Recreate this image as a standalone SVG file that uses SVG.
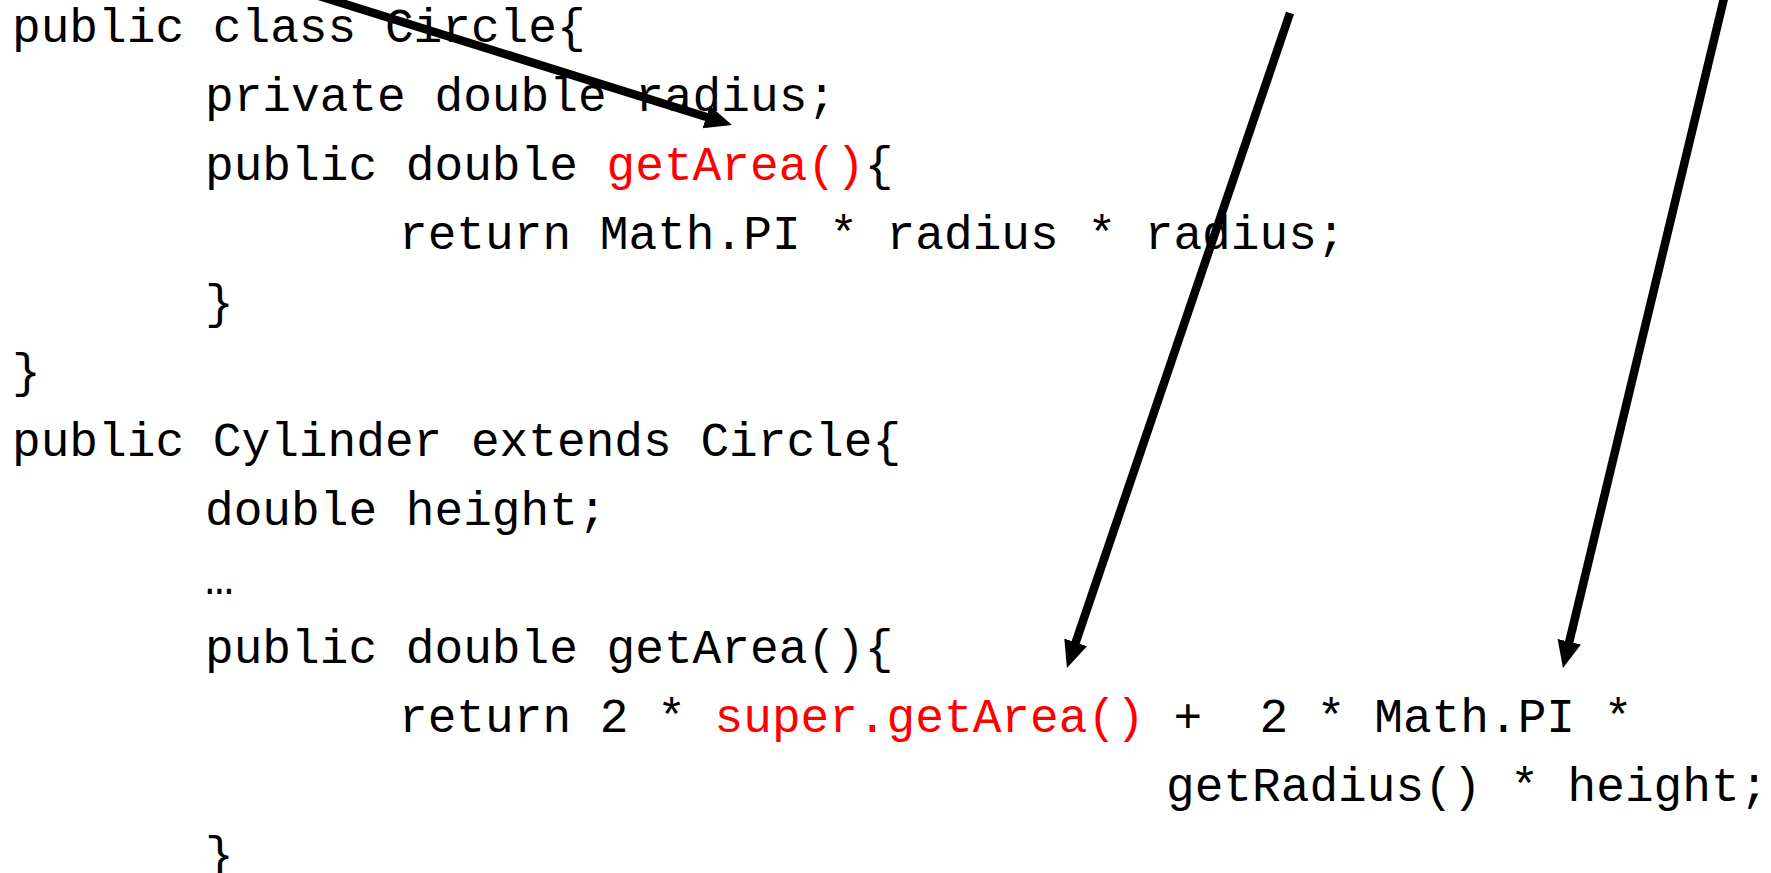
<svg xmlns="http://www.w3.org/2000/svg" width="1771" height="873" viewBox="0 0 1771 873">
  <style>
    .code { font-family: "Liberation Mono", "Courier New", monospace; font-size: 47.8px; fill: #000000; white-space: pre; }
    .hl { fill: #ff0000; }
    .arrow { stroke: #000000; stroke-width: 8.5; fill: none; marker-end: url(#head); }
  </style>
  <defs>
    <marker id="head" markerUnits="userSpaceOnUse" markerWidth="32" markerHeight="28" viewBox="0 -14 32 28" refX="2" refY="0" orient="auto">
      <path d="M0,-12 L27,0 L0,12 z" fill="#000000"/>
    </marker>
  </defs>
  <rect width="1771" height="873" fill="#ffffff"/>

  <!-- Circle class -->
  <g id="circle-class">
    <text class="code" x="12" y="42">public class Circle{</text>
    <text class="code" x="205" y="111">private double radius;</text>
    <text class="code" x="205" y="180">public double <tspan class="hl">getArea()</tspan>{</text>
    <text class="code" x="399" y="249">return Math.PI * radius * radius;</text>
    <text class="code" x="205" y="318">}</text>
    <text class="code" x="12" y="387">}</text>
  </g>

  <!-- Cylinder class -->
  <g id="cylinder-class">
    <text class="code" x="12" y="456">public Cylinder extends Circle{</text>
    <text class="code" x="205" y="525">double height;</text>
    <text class="code" x="205" y="594">…</text>
    <text class="code" x="205" y="663">public double getArea(){</text>
    <text class="code" x="399" y="732">return 2 * <tspan class="hl">super.getArea()</tspan> +  2 * Math.PI *</text>
    <text class="code" x="1166" y="801">getRadius() * height;</text>
    <text class="code" x="205" y="870">}</text>
  </g>

  <!-- pointer arrows -->
  <g id="connectors">
    <line class="arrow" x1="300" y1="-10" x2="708.1" y2="117.5"/>
    <line class="arrow" x1="1290" y1="13" x2="1075" y2="644.3"/>
    <line class="arrow" x1="1726" y1="-10" x2="1568.8" y2="643.7"/>
  </g>
</svg>
